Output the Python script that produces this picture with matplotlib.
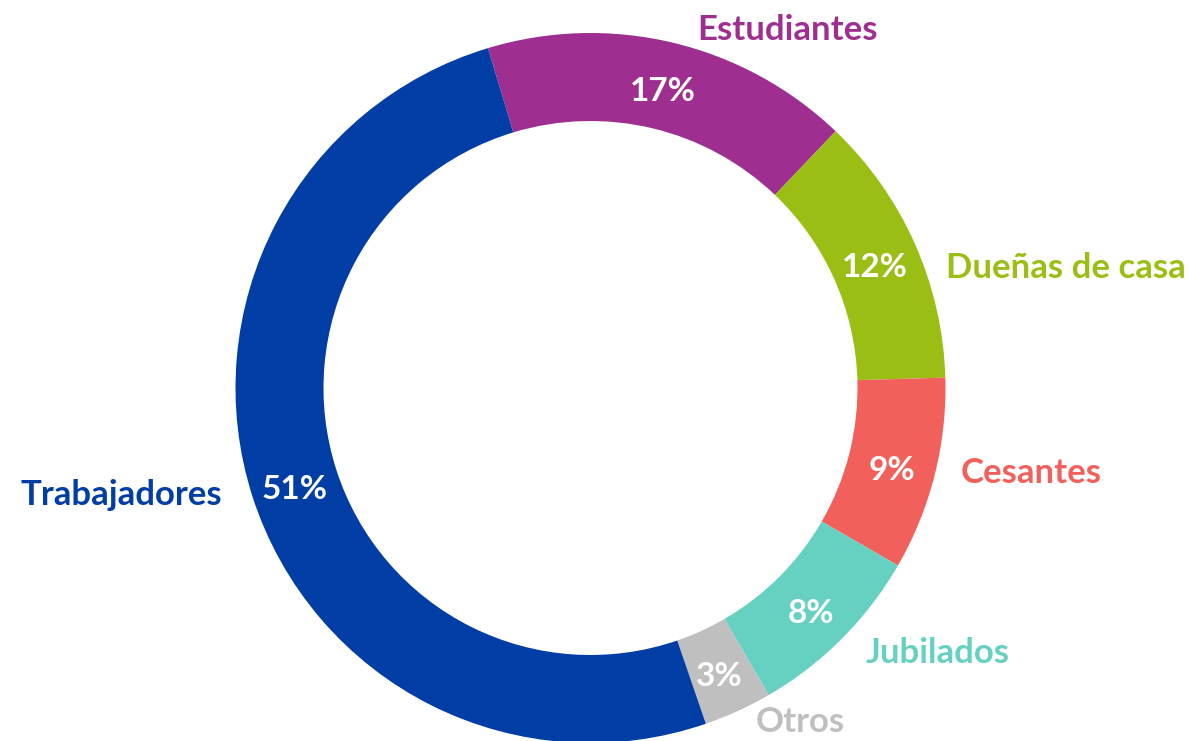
import matplotlib
matplotlib.use("Agg")
import matplotlib.pyplot as plt
import numpy as np

categories = ["Estudiantes", "Dueñas de casa", "Cesantes", "Jubilados", "Otros", "Trabajadores"]
values = [16.8, 12.4, 8.8, 8.3, 3.1, 50.6]
colors = ["#9E2F91", "#9BBE14", "#F2605C", "#66D1C1", "#BFBFBF", "#003DA5"]
pct_labels = ["17%", "12%", "9%", "8%", "3%", "51%"]

# label anchor positions (pixel layout, origin top-left)
label_pos = [(788, 30), (1066, 268), (1031, 473), (938, 653), (800, 722), (121, 495)]

W, H = 1189, 741
fig = plt.figure(figsize=(W / 100, H / 100), dpi=100)
ax = fig.add_axes([0, 0, 1, 1])

cx, cy, R = 590.5, H - 388, 355
width = 88
wedges, _ = ax.pie(values, colors=colors, radius=R, center=(cx, cy),
                   startangle=106.8, counterclock=False,
                   wedgeprops=dict(width=width, linewidth=0))

fp = dict(family="Lato", weight="bold")
for w, lab in zip(wedges, pct_labels):
    ang = np.deg2rad((w.theta1 + w.theta2) / 2)
    r = R - width / 2
    ax.text(cx + r * np.cos(ang), cy + r * np.sin(ang) - 6, lab, ha="center", va="center",
            color="white", fontsize=24, **fp)

for (x, y), lab, c in zip(label_pos, categories, colors):
    ax.text(x, H - y, lab, ha="center", va="center", color=c, fontsize=25, **fp)

ax.set_xlim(0, W)
ax.set_ylim(0, H)
ax.set_aspect("equal")
ax.axis("off")
fig.savefig("out.png", dpi=100)
